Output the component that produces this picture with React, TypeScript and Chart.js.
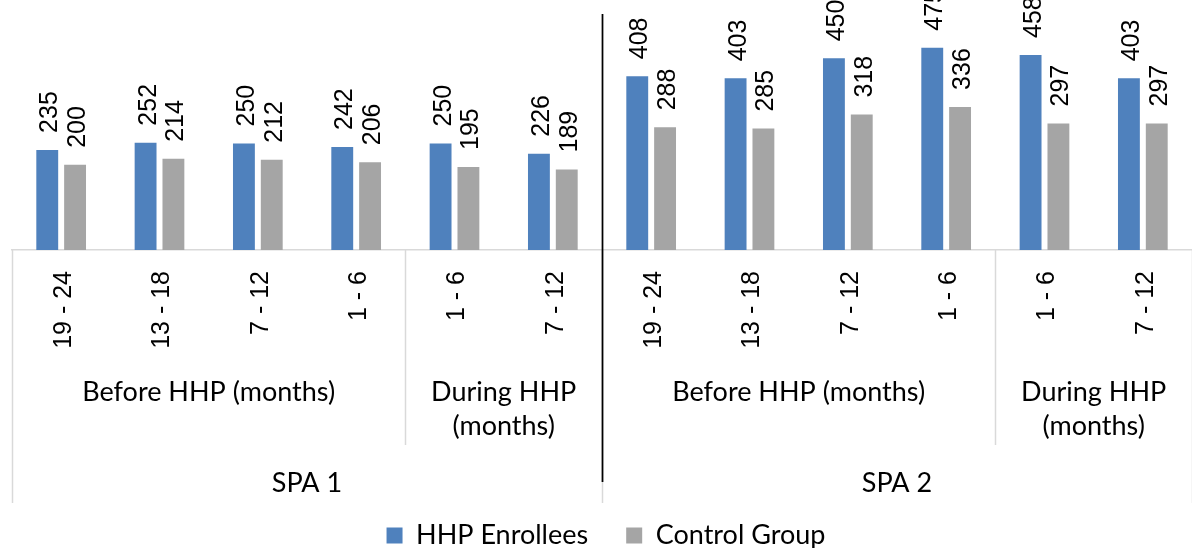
import React, { useEffect, useRef } from 'react';
import { Chart, registerables } from 'chart.js';

Chart.register(...registerables);

// ---- data ----
const categories = ['19 - 24', '13 - 18', '7 - 12', '1 - 6', '1 - 6', '7 - 12', '19 - 24', '13 - 18', '7 - 12', '1 - 6', '1 - 6', '7 - 12'];
const enrollees = [235, 252, 250, 242, 250, 226, 408, 403, 450, 475, 458, 403];
const controlGroup = [200, 214, 212, 206, 195, 189, 288, 285, 318, 336, 297, 297];
const periodLabels = [['Before HHP (months)'], ['During HHP', '(months)'], ['Before HHP (months)'], ['During HHP', '(months)']];
const periodSpans = [4, 2, 4, 2];
const regionLabels = ['SPA 1', 'SPA 2'];
const regionSpans = [6, 6];
const seriesNames = ['HHP Enrollees', 'Control Group'];

const BLUE = '#4f81bd';
const GRAY = '#a5a5a5';
const ARIAL = '"Liberation Sans", Arial, sans-serif';
const CALIBRI = 'Lato, "Open Sans", sans-serif';
const LABEL_SIZE = 25;
const GROUP_SIZE = 27;
const PLOT_BOTTOM = 250;

const dataLabelPlugin = {
  id: 'rotatedDataLabels',
  afterDatasetsDraw(chart: any) {
    const ctx = chart.ctx;
    ctx.save();
    ctx.font = `${LABEL_SIZE}px ${ARIAL}`;
    ctx.fillStyle = '#000';
    ctx.textAlign = 'left';
    ctx.textBaseline = 'alphabetic';
    chart.data.datasets.forEach((ds: any, di: number) => {
      const meta = chart.getDatasetMeta(di);
      meta.data.forEach((bar: any, i: number) => {
        ctx.save();
        ctx.translate(bar.x + 1, bar.y - 17);
        ctx.rotate(-Math.PI / 2);
        ctx.fillText(String(ds.data[i]), 0, LABEL_SIZE * 0.358);
        ctx.restore();
      });
    });
    ctx.restore();
  },
};

const multiAxisPlugin = {
  id: 'multiLevelAxis',
  afterDraw(chart: any) {
    const ctx = chart.ctx;
    const area = chart.chartArea;
    const x = chart.scales.x;
    const n = categories.length;
    const step = (area.right - area.left) / n;
    const edge = (i: number) => area.left + i * step;
    const yTop = area.bottom;

    ctx.save();
    const regionEdges: number[] = [0];
    regionSpans.reduce((acc, s) => { regionEdges.push(acc + s); return acc + s; }, 0);
    const periodEdges: number[] = [0];
    periodSpans.reduce((acc, s) => { periodEdges.push(acc + s); return acc + s; }, 0);
    ctx.strokeStyle = '#d9d9d9';
    ctx.lineWidth = 1.5;
    periodEdges.forEach((pi) => {
      const px = Math.round(edge(pi)) + 0.5;
      const full = regionEdges.includes(pi);
      ctx.beginPath();
      ctx.moveTo(px, yTop);
      ctx.lineTo(px, full ? 503 : 445);
      ctx.stroke();
    });
    ctx.strokeStyle = '#000';
    ctx.lineWidth = 1.75;
    regionEdges.slice(1, -1).forEach((ri) => {
      const px = Math.round(edge(ri)) + 0.5;
      ctx.beginPath();
      ctx.moveTo(px, 14);
      ctx.lineTo(px, 482);
      ctx.stroke();
    });

    ctx.fillStyle = '#000';
    ctx.font = `${LABEL_SIZE}px ${ARIAL}`;
    ctx.textAlign = 'right';
    ctx.textBaseline = 'alphabetic';
    categories.forEach((lab, i) => {
      const cx = x.getPixelForValue(i);
      ctx.save();
      ctx.translate(cx + 1, yTop + 21);
      ctx.rotate(-Math.PI / 2);
      ctx.fillText(lab, 0, LABEL_SIZE * 0.358);
      ctx.restore();
    });

    ctx.font = `${GROUP_SIZE}px ${CALIBRI}`;
    ctx.textAlign = 'center';
    let start = 0;
    periodSpans.forEach((span, gi) => {
      const cx = (edge(start) + edge(start + span)) / 2;
      periodLabels[gi].forEach((line, li) => {
        ctx.fillText(line, cx, 401 + li * 34);
      });
      start += span;
    });
    start = 0;
    regionSpans.forEach((span, gi) => {
      const cx = (edge(start) + edge(start + span)) / 2;
      ctx.fillText(regionLabels[gi], cx, 492);
      start += span;
    });
    ctx.restore();
  },
};

export default function App() {
  const ref = useRef<HTMLCanvasElement | null>(null);
  useEffect(() => {
    if (!ref.current) return;
    const chart = new Chart(ref.current, {
      type: 'bar',
      data: {
        labels: categories,
        datasets: [
          { label: seriesNames[0], data: enrollees, backgroundColor: BLUE, categoryPercentage: 0.566, barPercentage: 0.786 },
          { label: seriesNames[1], data: controlGroup, backgroundColor: GRAY, categoryPercentage: 0.566, barPercentage: 0.786 },
        ],
      },
      options: {
        responsive: false,
        animation: false,
        layout: { padding: { top: 0, left: 12, right: -8, bottom: 0 } },
        scales: {
          x: {
            display: true,
            grid: { display: false },
            ticks: { display: false },
            border: { display: true, color: '#d9d9d9', width: 1.5 },
            afterFit: (scale: any) => {
              const lg = scale.chart.legend;
              scale.height = scale.chart.height - PLOT_BOTTOM - (lg ? lg.height : 0);
            },
          },
          y: { display: false, min: 0, max: 587 },
        },
        plugins: {
          tooltip: { enabled: false },
          legend: {
            position: 'bottom',
            maxHeight: 64,
            labels: {
              boxWidth: 16,
              boxHeight: 16,
              padding: 38,
              color: '#000',
              font: { family: CALIBRI, size: GROUP_SIZE },
            },
          },
        },
      },
      plugins: [dataLabelPlugin, multiAxisPlugin],
    });
    return () => chart.destroy();
  }, []);
  return (
    <div style={{ position: 'fixed', left: 0, top: 0, width: 1192, height: 548, background: '#fff' }}>
      <canvas ref={ref} width={1192} height={548} style={{ width: '1192px', height: '548px', display: 'block' }} />
    </div>
  );
}
